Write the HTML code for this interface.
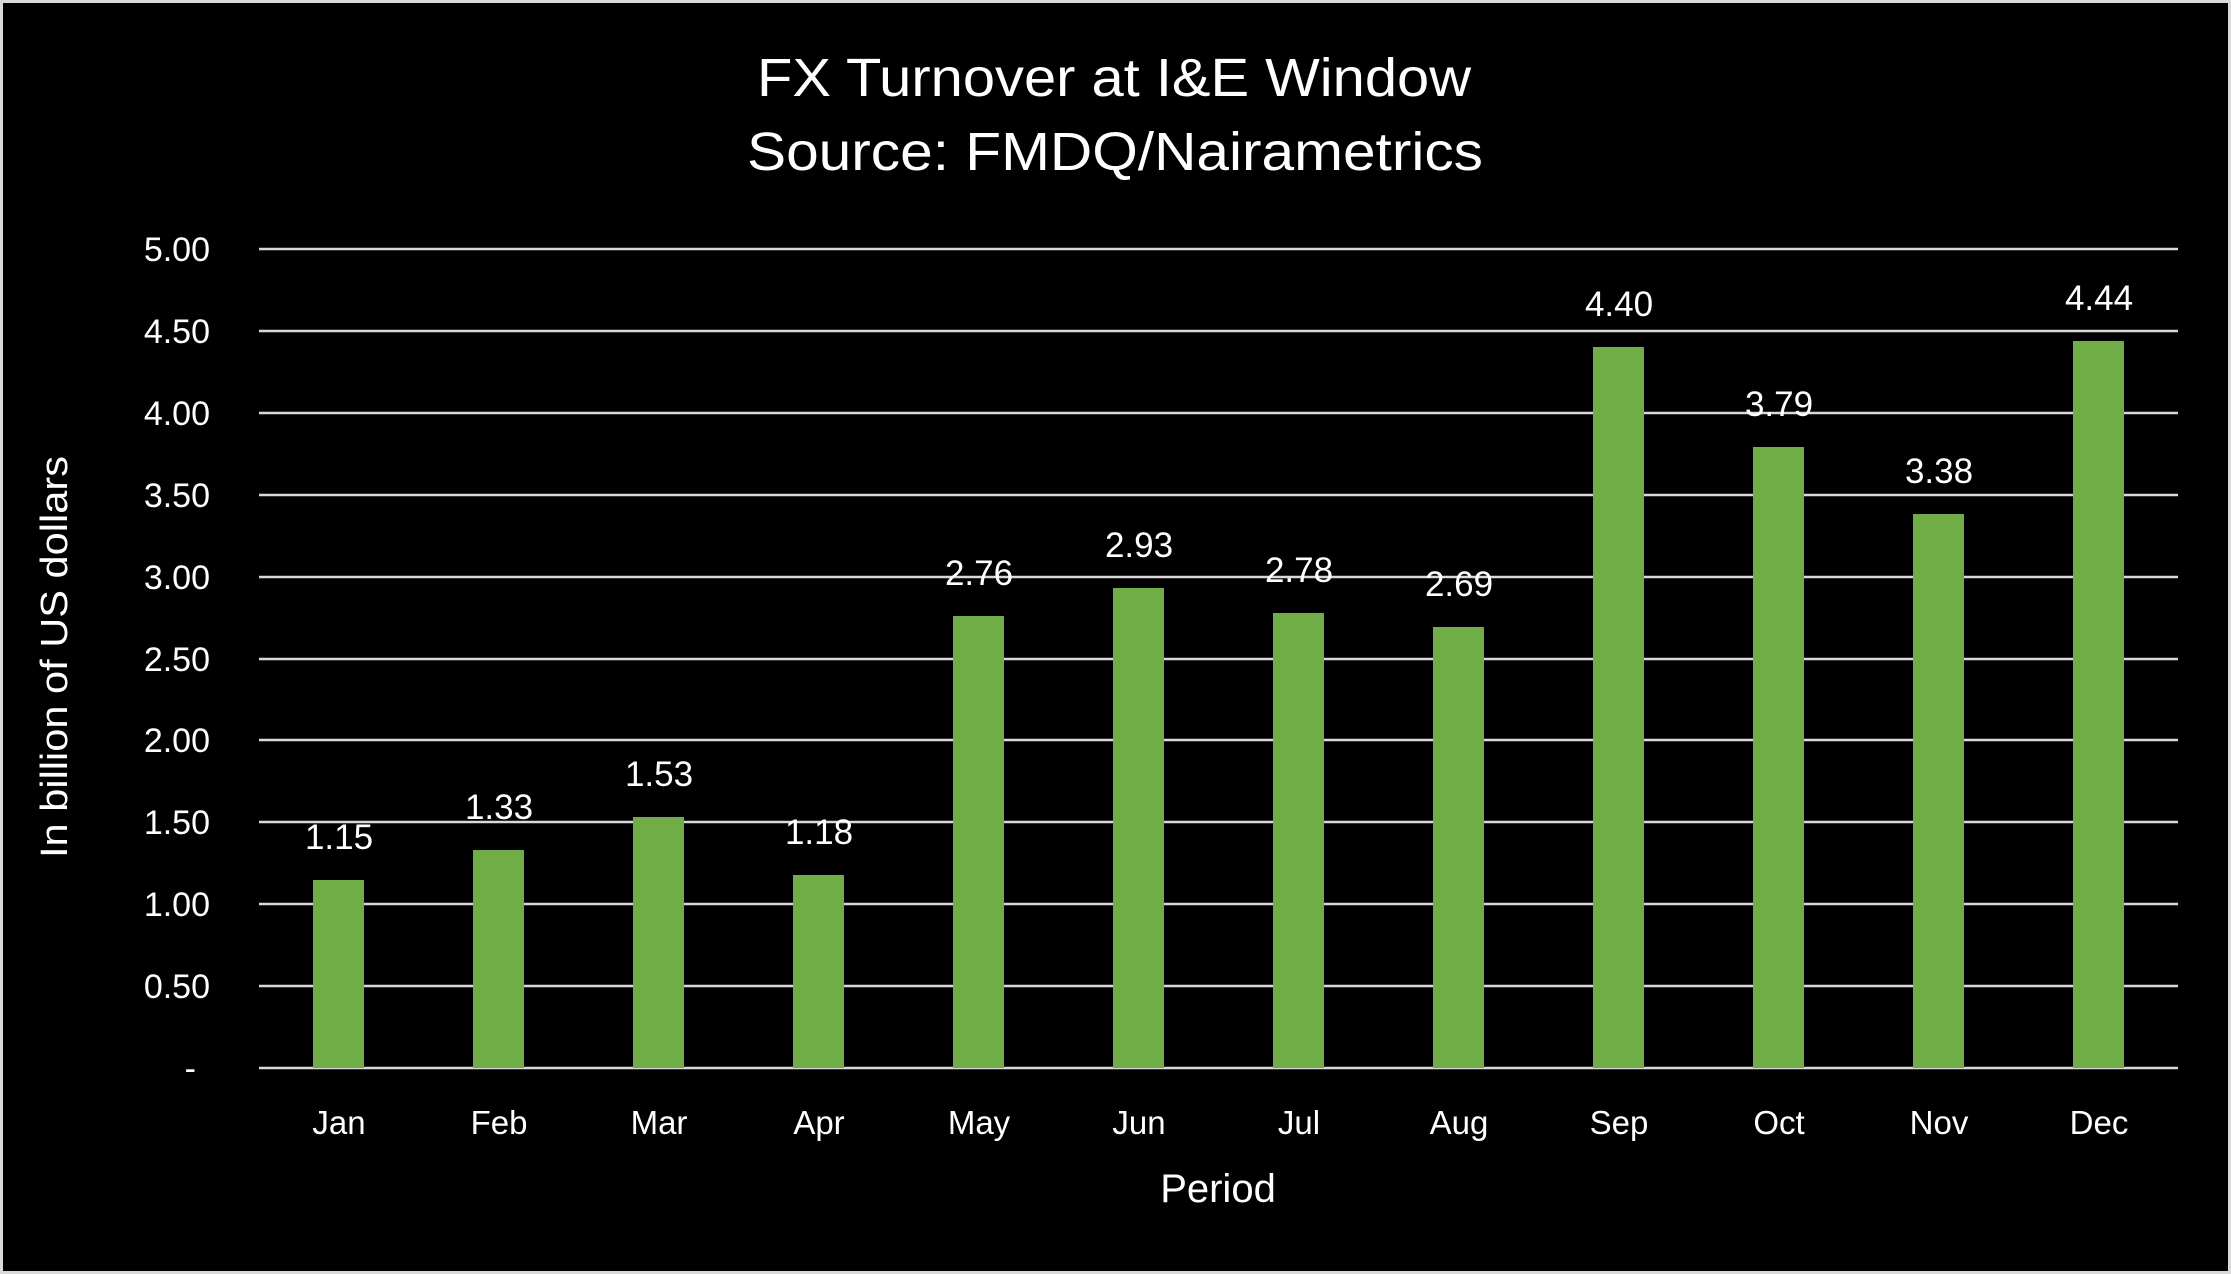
<!DOCTYPE html>
<html><head><meta charset="utf-8"><style>html,body{margin:0;padding:0;background:#000;}svg{display:block}</style></head>
<body>
<svg width="2231" height="1274" viewBox="0 0 2231 1274" xmlns="http://www.w3.org/2000/svg" font-family="'Liberation Sans', sans-serif" fill="#fff">
<rect x="0" y="0" width="2231" height="1274" fill="#000"/>
<rect x="1.5" y="1.5" width="2228" height="1271" fill="none" stroke="#d9d9d9" stroke-width="3"/>
<text x="1114" y="96" font-size="54" text-anchor="middle" textLength="714" lengthAdjust="spacingAndGlyphs">FX Turnover at I&amp;E Window</text>
<text x="1115" y="170" font-size="54" text-anchor="middle" textLength="736" lengthAdjust="spacingAndGlyphs">Source: FMDQ/Nairametrics</text>
<g stroke="#d9d9d9" stroke-width="2.5">
<line x1="259" x2="2178" y1="249" y2="249"/>
<line x1="259" x2="2178" y1="331" y2="331"/>
<line x1="259" x2="2178" y1="413" y2="413"/>
<line x1="259" x2="2178" y1="495" y2="495"/>
<line x1="259" x2="2178" y1="577" y2="577"/>
<line x1="259" x2="2178" y1="659" y2="659"/>
<line x1="259" x2="2178" y1="740" y2="740"/>
<line x1="259" x2="2178" y1="822" y2="822"/>
<line x1="259" x2="2178" y1="904" y2="904"/>
<line x1="259" x2="2178" y1="986" y2="986"/>
<line x1="259" x2="2178" y1="1068" y2="1068"/>
</g>
<g font-size="34" text-anchor="end">
<text x="210" y="261">5.00</text>
<text x="210" y="343">4.50</text>
<text x="210" y="425">4.00</text>
<text x="210" y="507">3.50</text>
<text x="210" y="589">3.00</text>
<text x="210" y="671">2.50</text>
<text x="210" y="752">2.00</text>
<text x="210" y="834">1.50</text>
<text x="210" y="916">1.00</text>
<text x="210" y="998">0.50</text>
<text x="196" y="1080">-</text>
</g>
<g fill="#70ad47">
<rect x="313" y="880" width="51" height="188"/>
<rect x="473" y="850" width="51" height="218"/>
<rect x="633" y="817" width="51" height="251"/>
<rect x="793" y="875" width="51" height="193"/>
<rect x="953" y="616" width="51" height="452"/>
<rect x="1113" y="588" width="51" height="480"/>
<rect x="1273" y="613" width="51" height="455"/>
<rect x="1433" y="627" width="51" height="441"/>
<rect x="1593" y="347" width="51" height="721"/>
<rect x="1753" y="447" width="51" height="621"/>
<rect x="1913" y="514" width="51" height="554"/>
<rect x="2073" y="341" width="51" height="727"/>
</g>
<g font-size="35" text-anchor="middle">
<text x="339" y="849">1.15</text>
<text x="499" y="819">1.33</text>
<text x="659" y="786">1.53</text>
<text x="819" y="844">1.18</text>
<text x="979" y="585">2.76</text>
<text x="1139" y="557">2.93</text>
<text x="1299" y="582">2.78</text>
<text x="1459" y="596">2.69</text>
<text x="1619" y="316">4.40</text>
<text x="1779" y="416">3.79</text>
<text x="1939" y="483">3.38</text>
<text x="2099" y="310">4.44</text>
</g>
<g font-size="33" text-anchor="middle">
<text x="339" y="1134">Jan</text>
<text x="499" y="1134">Feb</text>
<text x="659" y="1134">Mar</text>
<text x="819" y="1134">Apr</text>
<text x="979" y="1134">May</text>
<text x="1139" y="1134">Jun</text>
<text x="1299" y="1134">Jul</text>
<text x="1459" y="1134">Aug</text>
<text x="1619" y="1134">Sep</text>
<text x="1779" y="1134">Oct</text>
<text x="1939" y="1134">Nov</text>
<text x="2099" y="1134">Dec</text>
</g>
<text x="1218" y="1202" font-size="40" text-anchor="middle">Period</text>
<text transform="translate(67,657) rotate(-90)" font-size="38" text-anchor="middle" textLength="402" lengthAdjust="spacingAndGlyphs">In billion of US dollars</text>
</svg>
</body></html>
